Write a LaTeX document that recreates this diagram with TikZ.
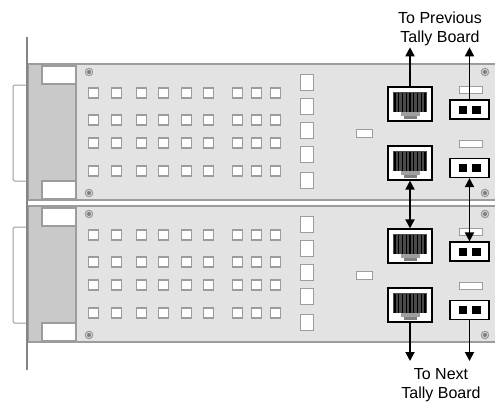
\documentclass[tikz,border=0pt]{standalone}
\usepackage{fontspec}
\setmainfont{Liberation Sans}
\usepackage{tikz}
\usetikzlibrary{arrows.meta, positioning, calc}
\definecolor{boardgrey}{HTML}{E3E3E3}
\definecolor{edgegrey}{HTML}{9C9C9C}
\definecolor{panelgrey}{HTML}{C9C9C9}
\definecolor{jackgrey}{HTML}{5C5C5C}

\begin{document}
\begin{tikzpicture}[x=1pt, y=-1pt,
	key/.style={draw=edgegrey, fill=white, line width=1.5pt},
	jackbox/.style={draw=black, fill=white, line width=1.2pt, minimum width=44pt, minimum height=34pt, inner sep=0pt},
	pinbox/.style={draw=black, fill=white, line width=1.2pt, minimum width=39pt, minimum height=19pt, inner sep=0pt},
	lbl/.style={align=center, inner sep=0pt, font=\fontsize{16}{19}\selectfont},
	link/.style={line width=1.8pt, -{Triangle[length=9pt,width=9pt]}},
	twolink/.style={line width=1.8pt, {Triangle[length=9pt,width=9pt]}-{Triangle[length=9pt,width=9pt]}}]
\useasboundingbox (0,0) rectangle (495,402);

\foreach \b/\off in {1/0, 2/142}
{
\begin{scope}[yshift=-\off pt]
	% side tab and board
	\draw[edgegrey, fill=white, line width=1pt, rounded corners=1.5pt] (27,85) -- (13,85) -- (13,181) -- (27,181);
	\draw[draw=edgegrey, fill=boardgrey, line width=1.6pt] (27,64) rectangle (500,200);
	\draw[draw=edgegrey, fill=panelgrey, line width=1.2pt] (28,64) rectangle (76,200);
	\draw[edgegrey, fill=white, line width=1.2pt] (42,66) rectangle (76,84);
	\draw[edgegrey, fill=white, line width=1.2pt] (42,181) rectangle (76,199);

	% screws
	\foreach \sx/\sy in {89/72, 89/193, 485/72, 485/193}
	{
		\fill[edgegrey] (\sx,\sy) circle (4.3pt);
		\fill[boardgrey!80!edgegrey] (\sx,\sy) circle (3pt);
		\fill[edgegrey!80!black] (\sx,\sy) circle (2pt);
	}

	% keys
	\foreach \cx in {88,111,136,158,181,203,232,251,270}
	\foreach \ry in {93,120,143,171}
	\draw[key] (\cx+0.7,\ry-5) rectangle ++(10,10);

	\foreach \ty in {74,98,122,146,172}
	\draw[key] (300.7,\ty+0.7) rectangle ++(13,16);

	\draw[key] (356.7,129.7) rectangle (372.3,137.3);

	% network jacks
	\foreach \n/\jy in {up/104, dn/163}
	{
		\node[jackbox] (j\n\b) at (410,\jy) {};
		\fill[jackgrey!80!black] (393,\jy-12) rectangle (427,\jy+8);
		\foreach \s in {0,...,8}
		\draw[black, line width=1.3pt] (395+\s*3.75,\jy-11) -- (395+\s*3.75,\jy+8);
		\fill[gray!75] (401,\jy+8) rectangle (420,\jy+12);
		\fill[gray] (404,\jy+12) rectangle (417,\jy+15);
	}

	% tally connectors
	\foreach \n/\cy/\ly in {up/109.5/86, dn/168/140}
	{
		\draw[key] (459.7,\ly+0.7) rectangle (482.3,\ly+7.3);
		\node[pinbox] (c\n\b) at (469.5,\cy) {};
		\fill[black] (459,\cy-4) rectangle (467,\cy+4);
		\fill[black] (472,\cy-4) rectangle (481,\cy+4);
	}
\end{scope}
}

\draw[edgegrey!85!black, line width=2pt] (27,37) -- (27,370);

\node[lbl, anchor=north] (prev) at (440,11.5) {To Previous\\Tally Board};
\node[lbl, anchor=north] (next) at (441,368) {To Next\\Tally Board};

\draw[link, shorten >=1.5pt] (jup1) -- (jup1 |- prev.south);
\draw[link, shorten >=1.5pt] (cup1) -- (cup1 |- prev.south);
\draw[twolink] (jdn1) -- (jup2);
\draw[twolink] (cdn1) -- (cup2);
\draw[link, shorten >=7pt] (jdn2) -- (jdn2 |- next.north);
\draw[link, shorten >=7pt] (cdn2) -- (cdn2 |- next.north);

\end{tikzpicture}
\end{document}
